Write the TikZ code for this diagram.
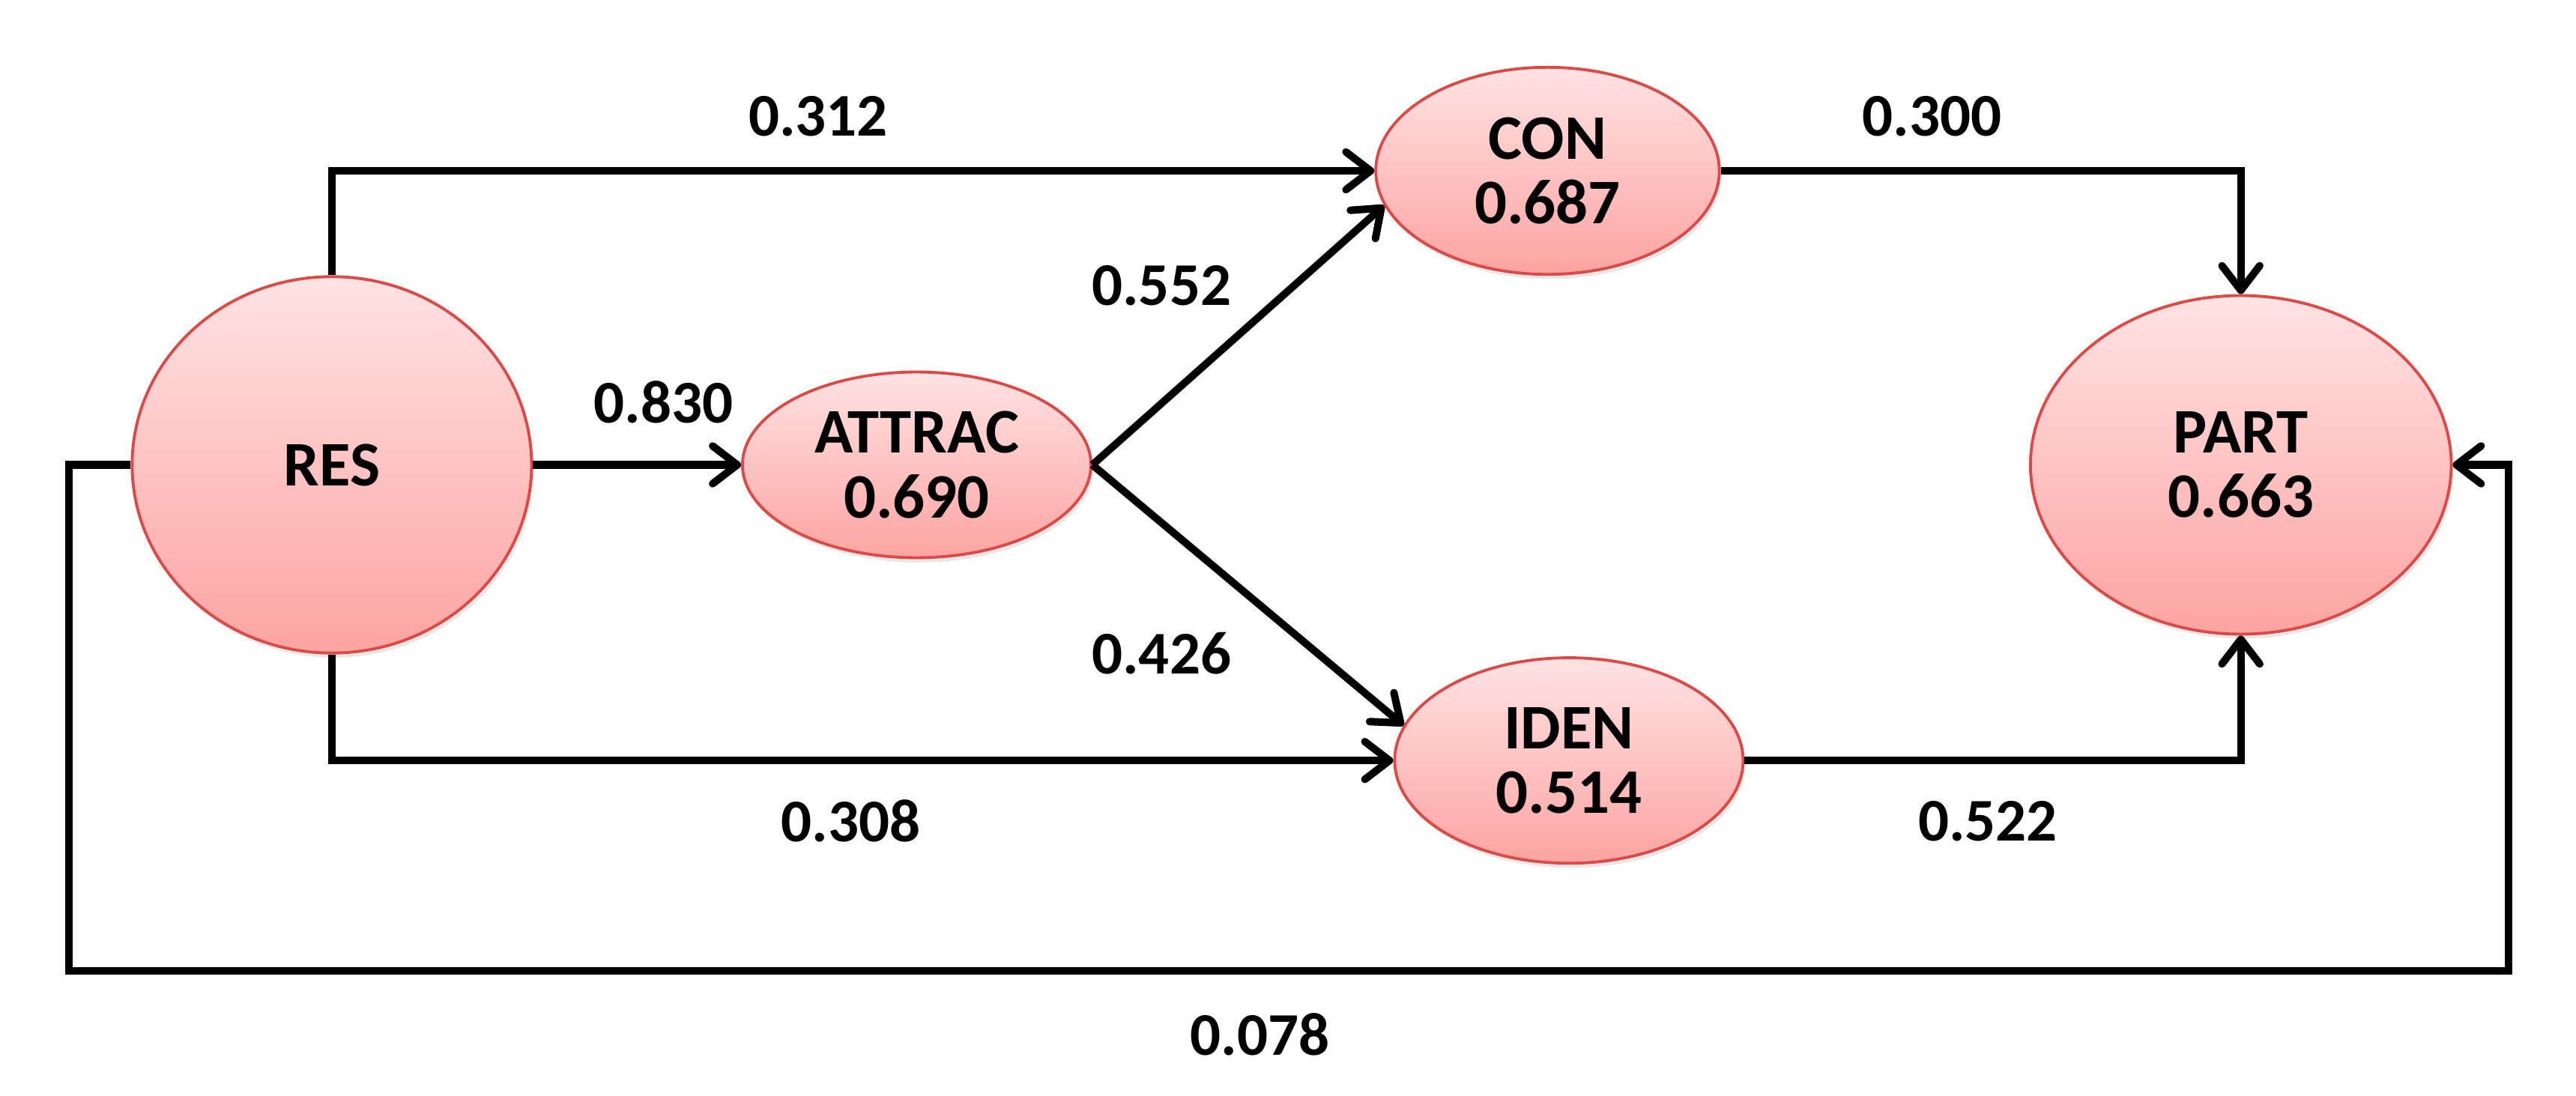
\documentclass[tikz,border=0pt]{standalone}
\usepackage{fontspec}
\setmainfont{Carlito}
\usepackage{tikz}
\usetikzlibrary{arrows.meta,positioning,shapes.geometric,shadows}
\definecolor{ink}{HTML}{000000}
\definecolor{pinktop}{HTML}{FFE3E3}
\definecolor{pinkbot}{HTML}{FCA4A2}
\definecolor{pinkedge}{HTML}{DC4A47}
\tikzset{
  latent/.style={ellipse, draw=pinkedge, line width=0.5pt,
                 top color=pinktop, bottom color=pinkbot,
                 inner sep=0pt, align=center,
                 font=\fontsize{11}{11.2}\selectfont\bfseries,
                 drop shadow={opacity=0.18, shadow xshift=0.4pt, shadow yshift=-0.8pt}},
  coef/.style={font=\fontsize{10.5}{12}\selectfont\bfseries, inner sep=1pt},
  patharr/.style={-{Straight Barb[length=1.5mm,width=2.3mm,line width=1.3pt,round]},
                  line width=1.3pt, color=ink}
}

\begin{document}
\begin{tikzpicture}[x=0.01cm,y=-0.01cm]
  \useasboundingbox (0,0) rectangle (1568,667);

  % Constructs
  \node[latent,minimum width=2.43cm,minimum height=2.29cm] (res) at (202,283) {RES};
  \node[latent,minimum width=2.12cm,minimum height=1.13cm] (attrac) at (558,283) {ATTRAC\\0.690};
  \node[latent,minimum width=2.09cm,minimum height=1.26cm] (con) at (942,104) {CON\\0.687};
  \node[latent,minimum width=2.12cm,minimum height=1.25cm] (iden) at (955,463) {IDEN\\0.514};
  \node[latent,minimum width=2.56cm,minimum height=2.06cm] (part) at (1364,283) {PART\\0.663};

  % Corners of the long path underneath
  \coordinate (loopL) at (42,591);
  \coordinate (loopR) at (1527,591);

  % Paths
  \draw[patharr] (res.north) |- (con.west);
  \draw[patharr] (res.east) -- (attrac.west);
  \draw[patharr] (res.south) |- (iden.west);
  \draw[patharr] (attrac.east) -- (con.192);
  \draw[patharr] (attrac.east) -- (iden.168);
  \draw[patharr] (con.east) -| (part.north);
  \draw[patharr] (iden.east) -| (part.south);
  \draw[patharr] (res.west) -| (loopL) -- (loopR) |- (part.east);

  % Path coefficients
  \node[coef] (c-res-con)    at (498,71)  {0.312};
  \node[coef] (c-con-part)   at (1176,71) {0.300};
  \node[coef] (c-att-con)    at (707,174) {0.552};
  \node[coef] (c-res-att)    at (404,245) {0.830};
  \node[coef] (c-att-iden)   at (707,398) {0.426};
  \node[coef] (c-res-iden)   at (518,500) {0.308};
  \node[coef] (c-iden-part)  at (1210,500) {0.522};
  \node[coef] (c-res-part)   at (767,630) {0.078};
\end{tikzpicture}
\end{document}
